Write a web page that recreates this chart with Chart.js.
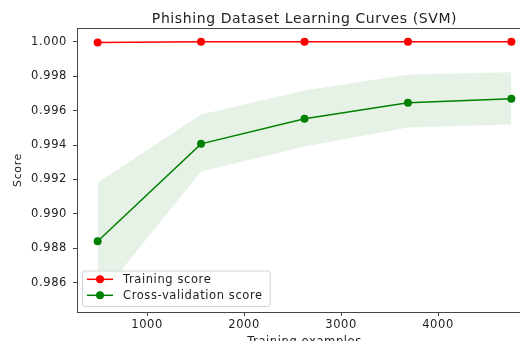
<!DOCTYPE html>
<html><head><meta charset="utf-8">
<script src="https://cdn.jsdelivr.net/npm/chart.js@4/dist/chart.umd.min.js"></script>
<style>
html,body{margin:0;padding:0;overflow:hidden;background:#fff;width:520px;height:341px}
#wrap{position:absolute;left:0;top:0;width:536px;height:350px}
</style>
</head><body><div id="wrap"><canvas id="c" width="536" height="350"></canvas></div>
<script>
const trainSizes = [490, 1556, 2623, 3690, 4756];
const trainScores = [0.99996, 1.0, 1.0, 1.0, 1.0];
const cvScores = [0.98841, 0.99407, 0.99553, 0.99646, 0.99669];
const cvUpper = [0.99181, 0.99578, 0.99717, 0.99810, 0.99823];
const cvLower = [0.98503, 0.99246, 0.99392, 0.99502, 0.99519];
const xTicks = [1000, 2000, 3000, 4000];
const yTicks = [0.986, 0.988, 0.990, 0.992, 0.994, 0.996, 0.998, 1.000];
const xLimits = [277, 4969];
const yLimits = [0.98430, 1.00080];

const FONT = '"DejaVu Sans", sans-serif';
const TXT = '#222';
const AX = '#444';
const pts = ys => trainSizes.map((x, i) => ({x: x, y: ys[i]}));

const spacingPlugin = {
  id: 'spacing',
  beforeUpdate(chart) { chart.ctx.letterSpacing = '0.6px'; },
  beforeDraw(chart) { chart.ctx.letterSpacing = '0.6px'; }
};

const framePlugin = {
  id: 'frame',
  afterDraw(chart) {
    const {ctx, chartArea: a} = chart;
    ctx.save();
    ctx.strokeStyle = AX; ctx.lineWidth = 1;
    ctx.beginPath();
    ctx.moveTo(a.left, a.top + 0.5); ctx.lineTo(a.right, a.top + 0.5);
    ctx.moveTo(a.right - 0.5, a.top); ctx.lineTo(a.right - 0.5, a.bottom);
    ctx.stroke();
    ctx.restore();
  }
};

const legendPlugin = {
  id: 'boxLegend',
  afterDraw(chart) {
    const {ctx, chartArea: a} = chart;
    const items = chart.data.datasets.filter(d => d.inLegend);
    ctx.save();
    ctx.font = '11.5px ' + FONT;
    const maxW = Math.max(...items.map(d => ctx.measureText(d.label).width));
    const bh = 35.5;
    const bx = a.left + 5.5, by = a.bottom - 5.5 - bh;
    const bw = 40 + maxW + 8;
    ctx.beginPath();
    ctx.roundRect(bx, by, bw, bh, 2.5);
    ctx.fillStyle = 'rgba(255,255,255,0.8)';
    ctx.fill();
    ctx.strokeStyle = '#d4d4d4'; ctx.lineWidth = 1;
    ctx.stroke();
    items.forEach((d, i) => {
      const y = by + 8.3 + i * 16;
      ctx.strokeStyle = d.borderColor; ctx.lineWidth = 1.5;
      ctx.beginPath(); ctx.moveTo(bx + 4.5, y); ctx.lineTo(bx + 30.5, y); ctx.stroke();
      ctx.fillStyle = d.borderColor;
      ctx.beginPath(); ctx.arc(bx + 17.5, y, 4, 0, Math.PI * 2); ctx.fill();
      ctx.fillStyle = TXT; ctx.textBaseline = 'middle'; ctx.textAlign = 'left';
      ctx.fillText(d.label, bx + 40.5, y + 0.5);
    });
    ctx.restore();
  }
};

new Chart(document.getElementById('c'), {
  type: 'line',
  data: {
    datasets: [
      {label: 'Training score', data: pts(trainScores), borderColor: '#ff0000', backgroundColor: '#ff0000',
       borderWidth: 1.5, pointRadius: 4, pointBorderWidth: 0, pointBackgroundColor: '#ff0000', fill: false, order: 0, inLegend: true},
      {label: 'Cross-validation score', data: pts(cvScores), borderColor: '#008000', backgroundColor: '#008000',
       borderWidth: 1.5, pointRadius: 4, pointBorderWidth: 0, pointBackgroundColor: '#008000', fill: false, order: 1, inLegend: true},
      {label: 'cv upper', data: pts(cvUpper), borderWidth: 0, borderColor: 'rgba(0,0,0,0)', pointRadius: 0,
       fill: '+1', backgroundColor: 'rgba(0,128,0,0.1)', order: 3},
      {label: 'cv lower', data: pts(cvLower), borderWidth: 0, borderColor: 'rgba(0,0,0,0)', pointRadius: 0,
       fill: false, order: 3}
    ]
  },
  options: {
    responsive: false,
    animation: false,
    layout: {padding: {left: 0, right: 4, top: 0, bottom: 0}},
    plugins: {
      legend: {display: false},
      tooltip: {enabled: false},
      title: {display: true, text: 'Phishing Dataset Learning Curves (SVM)', fullSize: false,
              color: TXT, font: {family: FONT, size: 14, weight: 'normal'}, padding: {top: 10.5, bottom: 0.7}}
    },
    scales: {
      x: {
        type: 'linear', min: xLimits[0], max: xLimits[1],
        afterBuildTicks: s => { s.ticks = xTicks.map(v => ({value: v})); },
        afterFit: s => { s.height = 38; },
        ticks: {color: TXT, font: {family: FONT, size: 11.5}, padding: 2, maxRotation: 0, autoSkip: false,
                callback: v => String(v)},
        grid: {drawOnChartArea: false, drawTicks: true, tickLength: 4, color: AX},
        border: {display: true, color: AX, width: 1},
        title: {display: true, text: 'Training examples', color: TXT, font: {family: FONT, size: 11.5},
                padding: {top: 0, bottom: 1}}
      },
      y: {
        type: 'linear', min: yLimits[0], max: yLimits[1],
        afterBuildTicks: s => { s.ticks = yTicks.map(v => ({value: v})); },
        afterFit: s => { s.width = 77; },
        ticks: {color: TXT, font: {family: FONT, size: 11.5}, padding: 6, autoSkip: false,
                callback: v => Number(v).toFixed(3)},
        grid: {drawOnChartArea: false, drawTicks: true, tickLength: 4, color: AX},
        border: {display: true, color: AX, width: 1},
        title: {display: true, text: 'Score', color: TXT, font: {family: FONT, size: 11}, padding: {top: 12, bottom: 0}}
      }
    }
  },
  plugins: [spacingPlugin, framePlugin, legendPlugin]
});
</script>
</body></html>
